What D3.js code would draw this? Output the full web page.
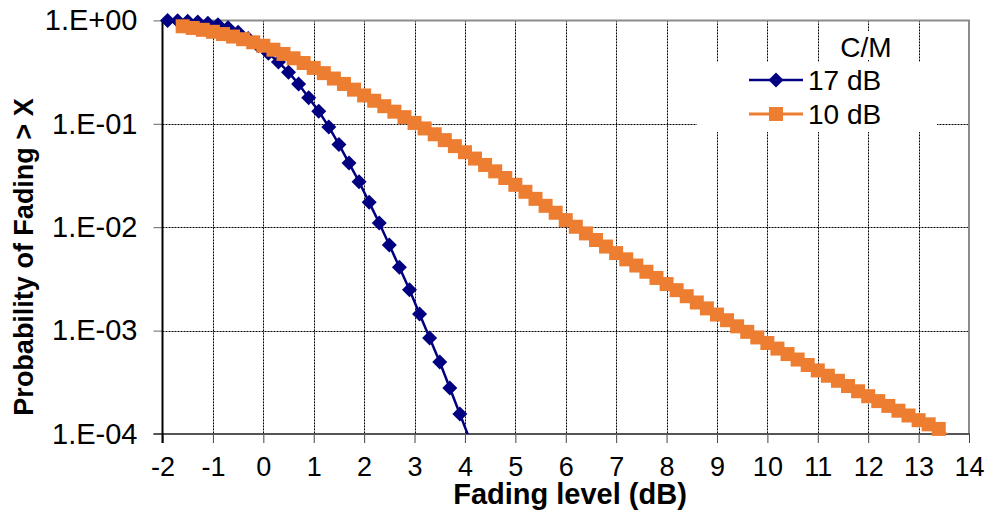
<!DOCTYPE html>
<html>
<head>
    <meta charset="UTF-8">
    <title>Fading</title>
    <style>
        body { margin: 0; background: #fff; }
        svg text { font-family: "Liberation Sans", Arial, sans-serif; }
    </style>
</head>
<body>
<div id="chart"></div>
<script src="https://cdn.jsdelivr.net/npm/d3@7"></script>
<script>
    // fading level (dB) and P(fading > X)
    var fade17 = [-1.9, -1.7, -1.5, -1.3, -1.1, -0.9, -0.7, -0.5, -0.3, -0.1, 0.1, 0.3, 0.5, 0.7, 0.9, 1.1,
        1.3, 1.5, 1.7, 1.9, 2.1, 2.3, 2.5, 2.7, 2.9, 3.1, 3.3, 3.5, 3.7, 3.9, 4.1];
    var prob17 = [0.998, 0.993, 0.982, 0.964, 0.940, 0.906, 0.851, 0.767, 0.668, 0.569, 0.481, 0.395, 0.316,
        0.242, 0.179, 0.132, 0.0933, 0.0631, 0.0417, 0.0275, 0.0174, 0.0110, 0.00673, 0.00410, 0.00248,
        0.00145, 0.000847, 0.000497, 0.000279, 0.000156, 0.0000871];

    var fade10 = [-1.6, -1.4, -1.2, -1.0, -0.8, -0.6, -0.4, -0.2, 0.0, 0.2, 0.4, 0.6, 0.8, 1.0, 1.2, 1.4, 1.6, 1.8,
        2.0, 2.2, 2.4, 2.6, 2.8, 3.0, 3.2, 3.4, 3.6, 3.8, 4.0, 4.2, 4.4, 4.6, 4.8, 5.0, 5.2, 5.4, 5.6, 5.8,
        6.0, 6.2, 6.4, 6.6, 6.8, 7.0, 7.2, 7.4, 7.6, 7.8, 8.0, 8.2, 8.4, 8.6, 8.8, 9.0, 9.2, 9.4, 9.6, 9.8,
        10.0, 10.2, 10.4, 10.6, 10.8, 11.0, 11.2, 11.4, 11.6, 11.8, 12.0, 12.2, 12.4, 12.6, 12.8, 13.0,
        13.2, 13.4, 13.6];
    var prob10 = [0.877, 0.845, 0.811, 0.776, 0.738, 0.698, 0.658, 0.614, 0.569, 0.521, 0.474, 0.430, 0.387,
        0.347, 0.309, 0.274, 0.243, 0.214, 0.188, 0.167, 0.148, 0.131, 0.116, 0.102, 0.0902, 0.0792, 0.0695,
        0.0608, 0.0531, 0.0461, 0.0400, 0.0347, 0.0299, 0.0257, 0.0220, 0.0188, 0.0161, 0.0138, 0.0117,
        0.0101, 0.00871, 0.00752, 0.00650, 0.00562, 0.00489, 0.00426, 0.00371, 0.00323, 0.00282, 0.00246,
        0.00215, 0.00187, 0.00164, 0.00143, 0.00126, 0.00110, 0.000973, 0.000859, 0.000759, 0.000670,
        0.000593, 0.000525, 0.000465, 0.000412, 0.000366, 0.000327, 0.000291, 0.000259, 0.000232,
        0.000208, 0.000187, 0.000168, 0.000151, 0.000136, 0.000124, 0.000112, 0.0000955];

    var xTicks = [-2, -1, 0, 1, 2, 3, 4, 5, 6, 7, 8, 9, 10, 11, 12, 13, 14];
    var yTicks = [1, 1e-1, 1e-2, 1e-3, 1e-4];
    var seriesNames = ["17 dB", "10 dB"];
    var legendTitle = "C/M";

    window.onload = function () {
        var width = 990, height = 515;
        var pL = 162.5, pR = 969, pT = 20.4, pB = 434;

        var svg = d3.select("#chart").append("svg")
            .attr("width", width)
            .attr("height", height);

        var x = d3.scaleLinear().domain([-2, 14]).range([pL, pR]);
        var y = d3.scaleLog().domain([1e-4, 1]).range([pB, pT]);

        // grid
        var grid = svg.append("g").attr("stroke", "#000").attr("stroke-width", 1)
            .attr("stroke-dasharray", "2,1");
        grid.selectAll(".vg").data(xTicks.slice(1, -1)).join("line")
            .attr("x1", function (d) { return Math.round(x(d)) + 0.5; })
            .attr("x2", function (d) { return Math.round(x(d)) + 0.5; })
            .attr("y1", pT).attr("y2", pB);
        grid.selectAll(".hg").data(yTicks.slice(1, -1)).join("line")
            .attr("x1", pL).attr("x2", pR)
            .attr("y1", function (d) { return Math.round(y(d)) + 0.5; })
            .attr("y2", function (d) { return Math.round(y(d)) + 0.5; });

        // frame: top and right in gray
        svg.append("line").attr("x1", pL).attr("x2", pR + 1).attr("y1", pT).attr("y2", pT)
            .attr("stroke", "#8c8c8c").attr("stroke-width", 2);
        svg.append("line").attr("x1", pR).attr("x2", pR).attr("y1", pT).attr("y2", pB)
            .attr("stroke", "#8c8c8c").attr("stroke-width", 2);

        // axes
        var fmt = function (d) {
            var e = Math.round(Math.log10(d));
            return "1.E" + (e < 0 ? "-" : "+") + ("0" + Math.abs(e)).slice(-2);
        };
        var yAxis = svg.append("g").attr("transform", "translate(" + pL + ",0)")
            .call(d3.axisLeft(y).tickValues(yTicks).tickFormat(fmt).tickSize(9).tickPadding(16));
        yAxis.select(".domain").remove();
        yAxis.selectAll(".tick line").attr("stroke", "#666");
        yAxis.selectAll("text").attr("font-size", 29).attr("fill", "#000")
            .attr("font-family", "Liberation Sans, Arial, sans-serif");

        var xAxis = svg.append("g").attr("transform", "translate(0," + pB + ")")
            .call(d3.axisBottom(x).tickValues(xTicks).tickFormat(function (d) { return String(d); }).tickSize(9));
        xAxis.select(".domain").remove();
        xAxis.selectAll(".tick line").attr("stroke", "#444");
        xAxis.selectAll("text").attr("font-size", 27).attr("fill", "#000")
            .attr("font-family", "Liberation Sans, Arial, sans-serif")
            .attr("y", 42).attr("dy", null);

        svg.append("line").attr("x1", pL - 9).attr("x2", pR + 1).attr("y1", pB).attr("y2", pB)
            .attr("stroke", "#555").attr("stroke-width", 2);
        svg.append("line").attr("x1", pL).attr("x2", pL).attr("y1", pT - 1).attr("y2", pB + 9)
            .attr("stroke", "#000").attr("stroke-width", 2);

        // titles
        svg.append("text").attr("x", 570).attr("y", 504).attr("text-anchor", "middle")
            .attr("font-size", 29).attr("font-weight", "bold").text("Fading level (dB)");
        svg.append("text").attr("transform", "translate(33,257) rotate(-90)").attr("text-anchor", "middle")
            .attr("font-size", 27).attr("font-weight", "bold").text("Probability of Fading > X");

        // series
        svg.append("clipPath").attr("id", "plot").append("rect")
            .attr("x", pL).attr("y", pT).attr("width", pR - pL).attr("height", pB - pT);

        var diamond = "M0,-7.5L7.5,0L0,7.5L-7.5,0Z";
        var square = "M-7,-7H7V7H-7Z";
        var series = [
            {xs: fade17, ys: prob17, color: "#000080", width: 2.5, marker: diamond},
            {xs: fade10, ys: prob10, color: "#ED7D31", width: 3, marker: square}
        ];
        var line = d3.line().x(function (d) { return x(d[0]); }).y(function (d) { return y(d[1]); });

        series.forEach(function (s) {
            var pts = s.xs.map(function (v, i) { return [v, s.ys[i]]; });
            svg.append("path").datum(pts).attr("clip-path", "url(#plot)")
                .attr("fill", "none").attr("stroke", s.color).attr("stroke-width", s.width)
                .attr("d", line);
            svg.append("g").selectAll("path")
                .data(pts.filter(function (d) { return d[1] >= 1e-4; }))
                .join("path")
                .attr("transform", function (d) { return "translate(" + x(d[0]) + "," + y(d[1]) + ")"; })
                .attr("d", s.marker).attr("fill", s.color);
        });

        // legend
        var lg = svg.append("g");
        lg.append("rect").attr("x", 830).attr("y", 31).attr("width", 75).attr("height", 29).attr("fill", "#fff");
        lg.append("rect").attr("x", 697).attr("y", 62).attr("width", 240).attr("height", 70).attr("fill", "#fff");
        lg.append("text").attr("x", 866).attr("y", 57).attr("text-anchor", "middle")
            .attr("font-size", 28).text(legendTitle);
        series.forEach(function (s, i) {
            var ly = 80 + i * 34;
            lg.append("line").attr("x1", 749).attr("x2", 803).attr("y1", ly).attr("y2", ly)
                .attr("stroke", s.color).attr("stroke-width", s.width);
            lg.append("path").attr("transform", "translate(776," + ly + ")").attr("d", s.marker).attr("fill", s.color);
            lg.append("text").attr("x", 808).attr("y", ly + 10).attr("font-size", 28).text(seriesNames[i]);
        });
    };
</script>
</body>
</html>
